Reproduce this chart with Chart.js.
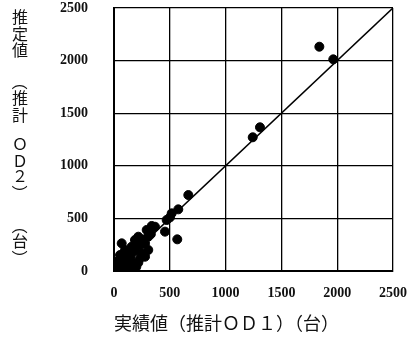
<!DOCTYPE html>
<html>
<head>
<meta charset="utf-8">
<script src="https://cdn.jsdelivr.net/npm/chart.js@4"></script>
<style>
  html, body { margin: 0; padding: 0; background: #fff; }
  #wrap { width: 414px; height: 347px; }
</style>
</head>
<body>
<div id="wrap"><canvas id="c" width="414" height="347"></canvas></div>
<script>
'use strict';

// 実績値 (推計OD1) と 推定値 (推計OD2)
var actualValues = [1840, 1965, 1308, 1243, 666, 576, 502, 457, 567, 338, 293,
  69, 54, 24, 5, 40, 99, 140, 175, 200, 188, 218, 248, 278, 307, 367,
  218, 158, 128, 188, 99, 307, 278, 233, 84, 54, 128, 472, 517,
  30, 60, 90, 110, 150, 180, 200, 240, 260, 330, 120, 160, 100, 60, 20];
var estimatedValues = [2132, 2012, 1366, 1271, 722, 586, 510, 374, 301, 428, 390,
  263, 152, 88, 30, 40, 45, 30, 35, 40, 70, 80, 168, 263, 326, 421,
  326, 231, 168, 295, 200, 200, 136, 120, 88, 25, 30, 485, 548,
  60, 100, 130, 100, 150, 190, 230, 250, 300, 350, 60, 90, 150, 60, 20];

// 45度線
var lineX = [0, 2500];
var lineY = [0, 2500];

var xTitle = '実績値（推計ＯＤ１）（台）';
var yTitle = '推定値（推計ＯＤ２）（台）';
// y title is written vertically, one glyph per slot
var yTitleSlots = [17, 33.5, 50, 82, 97.5, 114.5, 144, 161, 176, 193, 226, 241, 258];

var axisMin = 0, axisMax = 2500, axisStep = 500;

var points = actualValues.map(function (v, i) { return { x: v, y: estimatedValues[i] }; });
var line = lineX.map(function (v, i) { return { x: v, y: lineY[i] }; });

var tickFont = { family: '"Liberation Serif", serif', size: 14, weight: 'bold' };
var titleFont = { family: '"Noto Sans CJK JP", sans-serif', size: 18 };

var verticalTitle = {
  id: 'verticalTitle',
  afterDraw: function (chart) {
    var ctx = chart.ctx;
    var chars = Array.from(yTitle);
    ctx.save();
    ctx.fillStyle = '#111';
    ctx.font = '16px "Noto Sans CJK JP", sans-serif';
    ctx.textAlign = 'center';
    ctx.textBaseline = 'middle';
    chars.forEach(function (ch, i) {
      var y = yTitleSlots[i];
      if (ch === '（' || ch === '）') {
        ctx.save();
        ctx.translate(20, y);
        ctx.rotate(Math.PI / 2);
        ctx.fillText(ch, 0, 0);
        ctx.restore();
      } else {
        ctx.fillText(ch, 20, y);
      }
    });
    ctx.restore();
  }
};

function plainTick(v) { return String(v); }

new Chart(document.getElementById('c').getContext('2d'), {
  type: 'scatter',
  data: {
    datasets: [{
      data: points,
      backgroundColor: '#000',
      borderColor: '#000',
      pointRadius: 4.5,
      pointHoverRadius: 4.5
    }, {
      data: line,
      showLine: true,
      borderColor: '#000',
      borderWidth: 1.6,
      pointRadius: 0
    }]
  },
  options: {
    responsive: false,
    animation: false,
    layout: { padding: { left: 0, top: 8, right: 21, bottom: 0 } },
    plugins: { legend: { display: false }, tooltip: { enabled: false } },
    scales: {
      x: {
        type: 'linear', min: axisMin, max: axisMax,
        ticks: { stepSize: axisStep, padding: 14, color: '#111', font: tickFont, maxRotation: 0, callback: plainTick },
        grid: { color: '#000', lineWidth: 1.3, drawTicks: false },
        border: { color: '#000', width: 2 },
        title: { display: true, text: xTitle, align: 'start', color: '#111', font: titleFont, padding: { top: 0, bottom: 13 } },
        afterFit: function (s) { s.height = 76; s.paddingLeft = 0; s.paddingRight = 0; }
      },
      y: {
        type: 'linear', min: axisMin, max: axisMax,
        ticks: { stepSize: axisStep, padding: 26, color: '#111', font: tickFont, callback: plainTick },
        grid: { color: '#000', lineWidth: 1.3, drawTicks: false },
        border: { color: '#000', width: 2 },
        afterFit: function (s) { s.width = 114; s.paddingTop = 0; s.paddingBottom = 0; }
      }
    }
  },
  plugins: [verticalTitle]
});
</script>
</body>
</html>
